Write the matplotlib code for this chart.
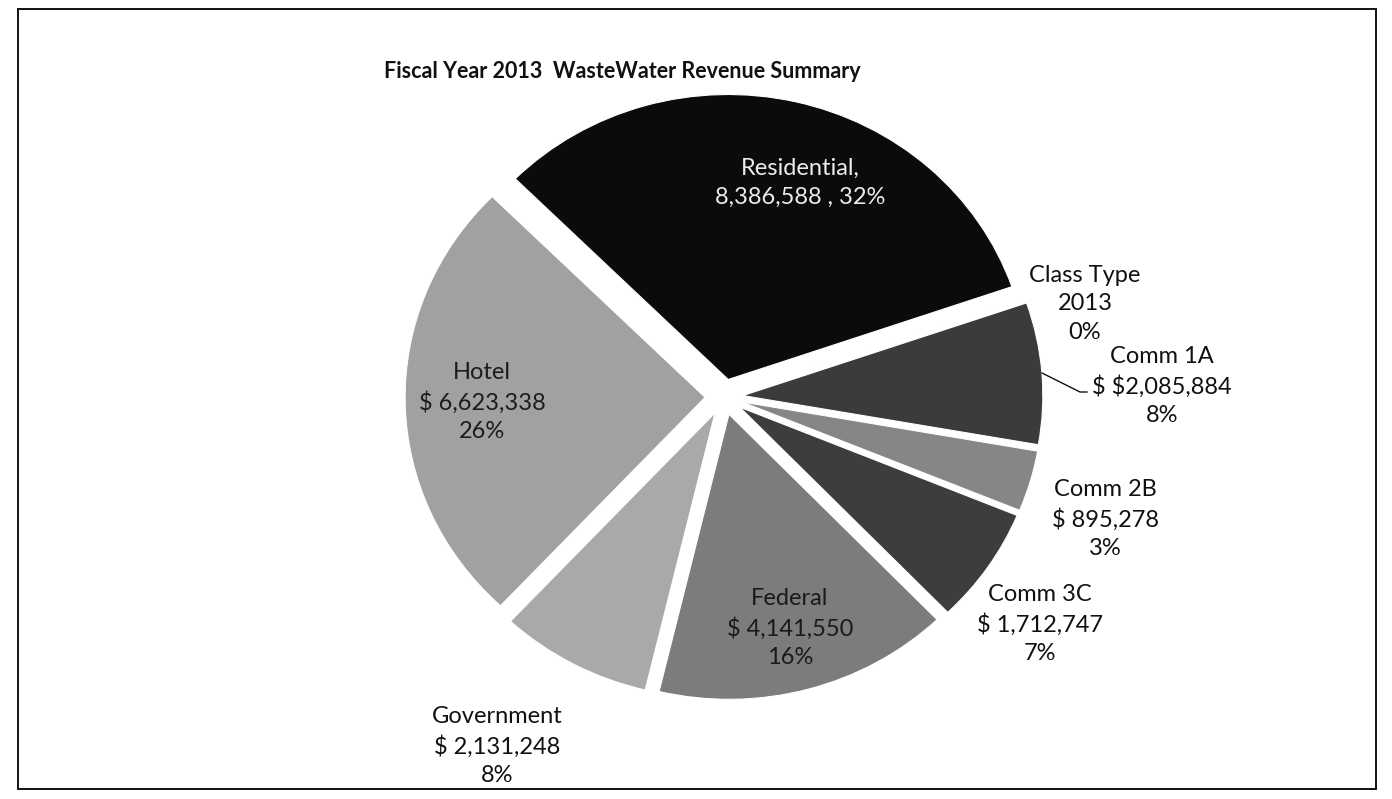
import numpy as np
import matplotlib
matplotlib.use("Agg")
import matplotlib.pyplot as plt
from matplotlib.patches import Rectangle

# ---- data -------------------------------------------------------------
categories = ["Class Type", "Comm 1A", "Comm 2B", "Comm 3C",
              "Federal", "Government", "Hotel", "Residential"]
values = [2013, 2085884, 895278, 1712747, 4141550, 2131248, 6623338, 8386588]
label_fmt = [
    "{c}\n{v}\n{p}%",
    "{c}\n$ ${v:,}\n{p}%",
    "{c}\n$ {v:,}\n{p}%",
    "{c}\n$ {v:,}\n{p}%",
    "{c}\n$ {v:,}\n{p}%",
    "{c}\n$ {v:,}\n{p}%",
    "{c}\n$ {v:,}\n{p}%",
    "{c},\n{v:,} , {p}%",
]
slice_colors = ["#5a5a5a", "#3b3b3b", "#868686", "#3d3d3d",
                "#7c7c7c", "#a9a9a9", "#a1a1a1", "#0b0b0b"]
title = "Fiscal Year 2013  WasteWater Revenue Summary"


def whole_percents(vals):
    """Integer percentages that add up to 100 (largest remainder)."""
    share = np.asarray(vals, float) / np.sum(vals) * 100.0
    base = np.floor(share).astype(int)
    missing = 100 - base.sum()
    order = np.argsort(-(share - base))
    base[order[:missing]] += 1
    return base


pcts = whole_percents(values)
labels = [f.format(c=c, v=v, p=p)
          for f, c, v, p in zip(label_fmt, categories, values, pcts)]

# ---- layout (pixels) --------------------------------------------------
W, H = 1392, 799
DPI = 100
cx, cy = 724, 397          # pie centre
rx, ry = 300, 285          # horizontal / vertical radius
pad = 1.2

label_pos = {
    "Class Type": (1085, 304, "#111111"),
    "Comm 1A": (1162, 386, "#111111"),
    "Comm 2B": (1105, 519, "#111111"),
    "Comm 3C": (1040, 624, "#111111"),
    "Federal": (790, 628, "#1a1a1a"),
    "Government": (497, 746, "#111111"),
    "Hotel": (482, 402, "#1c1c1c"),
    "Residential": (800, 183, "#ececec"),
}

plt.rcParams["font.family"] = ["Lato", "DejaVu Sans"]
plt.rcParams["text.parse_math"] = False

fig = plt.figure(figsize=(W / DPI, H / DPI), dpi=DPI)
fig.patch.set_facecolor("white")

# pie axes, stretched slightly so the pie is a little wider than tall
pie_ax = fig.add_axes([(cx - pad * rx) / W, (H - (cy + pad * ry)) / H,
                       2 * pad * rx / W, 2 * pad * ry / H])
pie_ax.pie(values, colors=slice_colors, startangle=19, counterclock=False,
           explode=[0.063] * len(values), radius=1.0,
           wedgeprops=dict(linewidth=0.8, edgecolor="white"))
pie_ax.set_aspect("auto")
pie_ax.set_xlim(-pad, pad)
pie_ax.set_ylim(-pad, pad)
pie_ax.axis("off")

# overlay in pixel coordinates for text and frame
ov = fig.add_axes([0, 0, 1, 1], zorder=5)
ov.set_xlim(0, W)
ov.set_ylim(H, 0)
ov.axis("off")
ov.patch.set_alpha(0)

ov.add_patch(Rectangle((18, 9), 1358, 780, fill=False,
                       edgecolor="#111111", linewidth=1.4))

ov.text(622, 71, title, ha="center", va="center", fontsize=15.5,
        fontweight="bold", color="#111111")

for cat, text in zip(categories, labels):
    x, y, col = label_pos[cat]
    ov.text(x, y, text, ha="center", va="center", fontsize=17,
            color=col, linespacing=1.45)

# leader line for Comm 1A
ov.plot([1042, 1080, 1087], [373, 392, 392], color="#111111", linewidth=1.0)

fig.savefig("out.png", dpi=DPI, facecolor="white")
